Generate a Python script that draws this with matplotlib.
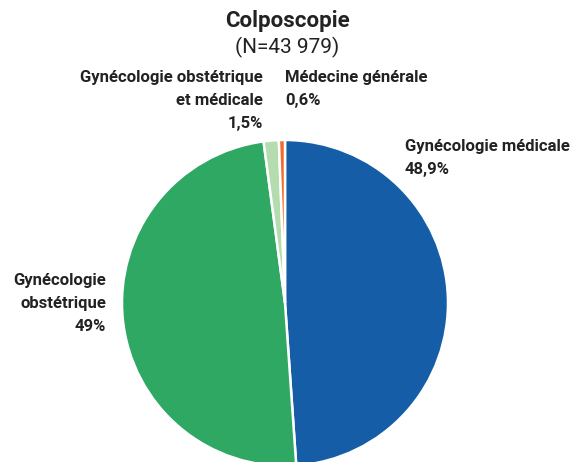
import matplotlib.pyplot as plt

plt.rcParams["font.family"] = ["Roboto", "DejaVu Sans"]

# data (clockwise from the top)
labels = ["Gynécologie médicale", "Gynécologie obstétrique",
          "Gynécologie obstétrique et médicale", "Médecine générale"]
shares = [48.9, 49.0, 1.5, 0.6]
share_text = ["48,9%", "49%", "1,5%", "0,6%"]
colors = ["#155da6", "#2ea863", "#b5dcae", "#f26b2e"]

W, H = 573, 462
fig = plt.figure(figsize=(W / 100, H / 100), dpi=100)

# pie centre ~ (285, 303) px, radius ~163 px
r = 163
ax = fig.add_axes([(285 - r) / W, (H - 303 - r) / H, 2 * r / W, 2 * r / H])
ax.pie(shares, colors=colors, startangle=90, counterclock=False,
       wedgeprops=dict(edgecolor="white", linewidth=1.8))
ax.set_aspect("equal")
ax.set_xlim(-1, 1)
ax.set_ylim(-1, 1)
ax.axis("off")


def px(x, y):
    return x / W, 1 - y / H


tc = "#222222"
fig.text(*px(287, 21), "Colposcopie", ha="center", va="center",
         fontsize=16, fontweight="bold", color=tc)
fig.text(*px(287, 47), "(N=43 979)", ha="center", va="center",
         fontsize=15, color=tc)

lab = dict(fontsize=12, fontweight="bold", color=tc, linespacing=1.65)
fig.text(*px(263, 70), "Gynécologie obstétrique\net médicale\n" + share_text[2],
         ha="right", va="top", multialignment="right", **lab)
fig.text(*px(285, 70), labels[3] + "\n" + share_text[3],
         ha="left", va="top", **lab)
fig.text(*px(405, 139), labels[0] + "\n" + share_text[0],
         ha="left", va="top", **lab)
fig.text(*px(106, 273), "Gynécologie\nobstétrique\n" + share_text[1],
         ha="right", va="top", multialignment="right", **lab)

fig.savefig("out.png", dpi=100)
